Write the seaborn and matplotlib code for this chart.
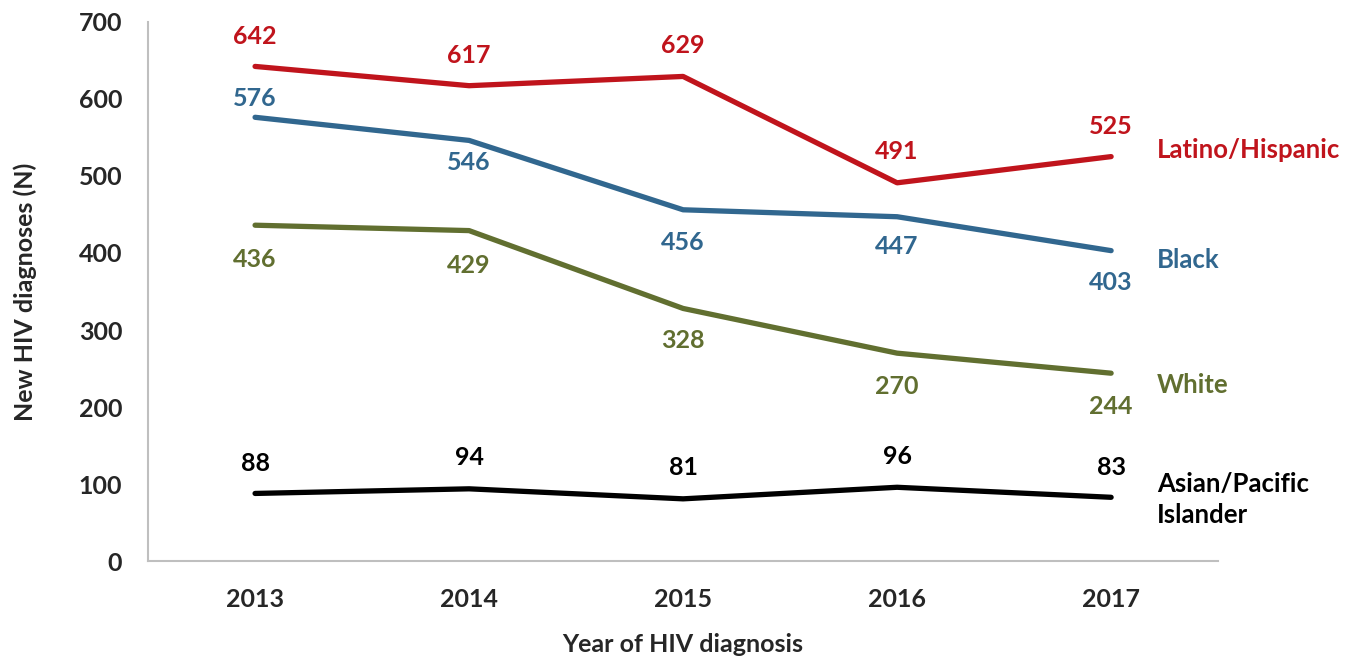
import matplotlib
matplotlib.use("Agg")
import matplotlib.pyplot as plt
import pandas as pd
import seaborn as sns

years = [2013, 2014, 2015, 2016, 2017]
latino = [642, 617, 629, 491, 525]
black = [576, 546, 456, 447, 403]
white = [436, 429, 328, 270, 244]
asian = [88, 94, 81, 96, 83]

groups = ["Latino/Hispanic", "Black", "White", "Asian/Pacific\nIslander"]
colors = ["#C0141C", "#31678F", "#616F30", "#000000"]

# vertical offset (px) of each value label from its point, + is above
label_dy = {
    "Latino/Hispanic": [30, 30, 31, 31, 30],
    "Black": [19, -22, -33, -30, -32],
    "White": [-34, -35, -32, -33, -33],
    "Asian/Pacific\nIslander": [30, 31, 31, 31, 30],
}
# vertical offset (px) of the series name vs last point
name_dy = [7, -9, -12, -2]

rows = []
for g, vals in zip(groups, [latino, black, white, asian]):
    for y, v in zip(years, vals):
        rows.append({"year": y, "n": v, "group": g})
df = pd.DataFrame(rows)

sns.set_style("white")
plt.rcParams['font.family'] = ['Lato', 'DejaVu Sans']

fig = plt.figure(figsize=(13.46, 6.58), dpi=100)
ax = fig.add_axes([0.110, 0.147, 0.795, 0.820])

sns.lineplot(data=df, x="year", y="n", hue="group", hue_order=groups,
             palette=colors, linewidth=3.8, legend=False, ax=ax,
             solid_capstyle="round")

px = 0.72
for g, c, dy in zip(groups, colors, name_dy):
    sub = df[df.group == g]
    for (y, v), off in zip(zip(sub.year, sub.n), label_dy[g]):
        ax.annotate(str(v), (y, v), xytext=(0, off * px), textcoords="offset points",
                    ha="center", va="center", color=c, fontsize=18, fontweight="bold")
    last = sub.iloc[-1]
    ax.annotate(g, (last.year, last.n), xytext=(46 * px, dy * px),
                textcoords="offset points", ha="left", va="center", color=c,
                fontsize=18.5, fontweight="bold", annotation_clip=False,
                linespacing=1.35)

ax.set_xlim(2012.5, 2017.5)
ax.set_ylim(0, 700)
ax.set_xticks(years)
ax.set_xticklabels([str(y) for y in years])
ax.set_yticks(range(0, 701, 100))

for s in ["top", "right"]:
    ax.spines[s].set_visible(False)
for s in ["left", "bottom"]:
    ax.spines[s].set_color("#BFBFBF")
    ax.spines[s].set_linewidth(1.5)

ax.tick_params(axis="y", direction="inout", length=13, width=1.2, color="#BFBFBF",
               labelsize=18, pad=12)
ax.tick_params(axis="x", length=0, labelsize=18, pad=19)
for lbl in ax.get_xticklabels() + ax.get_yticklabels():
    lbl.set_fontweight("bold")

ax.set_xlabel("Year of HIV diagnosis", fontsize=18, fontweight="bold", labelpad=16)
ax.set_ylabel("New HIV diagnoses (N)", fontsize=18, fontweight="bold", labelpad=30)

fig.savefig("out.png", dpi=100)
